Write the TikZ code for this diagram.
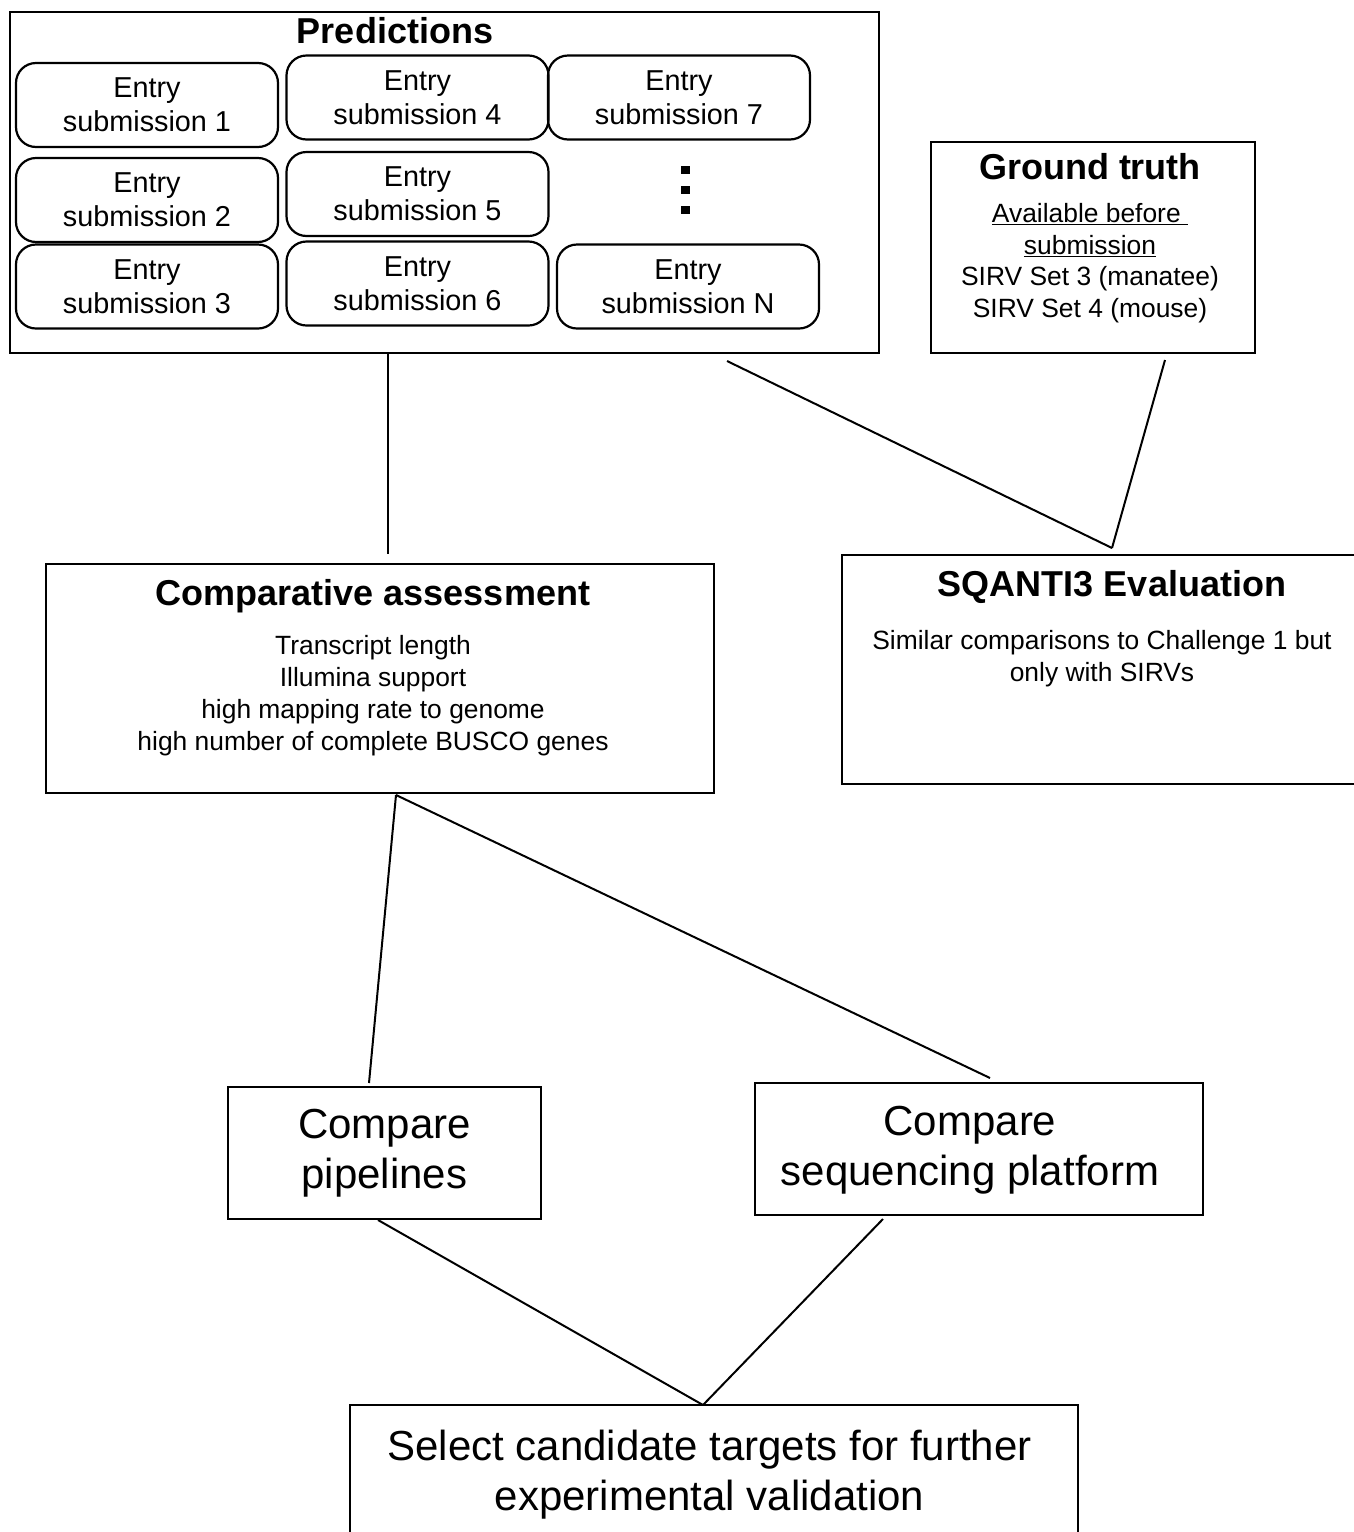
\documentclass[tikz,border=0pt]{standalone}
\usepackage{fontspec}
\setmainfont{Liberation Sans}

\newcommand{\headfont}{\bfseries\fontsize{36}{40}\selectfont}
\newcommand{\entryfont}{\fontsize{28.8}{34}\selectfont}
\newcommand{\bodyfont}{\fontsize{26.4}{31.7}\selectfont}
\newcommand{\bigfont}{\fontsize{42}{50}\selectfont}

\tikzset{
  box/.style={draw, line width=2.4pt, inner sep=0pt, outer sep=0pt},
  entry/.style={draw, line width=2.2pt, rounded corners=20pt, minimum width=262pt,
    minimum height=84pt, inner sep=0pt, outer sep=0pt, align=center, font=\entryfont},
  link/.style={line width=2pt},
  head/.style={anchor=base, font=\headfont},
  % multi-line text sits on the baseline of its last line
  body/.style={anchor=base, align=center, font=\bodyfont},
  big/.style={align=center, font=\bigfont},
}

\begin{document}
\begin{tikzpicture}[x=1pt, y=-1pt]
\useasboundingbox (0,0) rectangle (1354,1532);
\clip (0,0) rectangle (1354,1532);

% predictions frame
\node[box, minimum width=869pt, minimum height=341pt] (pred) at (444.5,182.5) {};
\node[head] (predtitle) at (395,43) {Predictions};

% entries
\node[entry] (e1) at (147,105) {Entry\\submission 1};
\node[entry] (e2) at (147,200) {Entry\\submission 2};
\node[entry] (e3) at (147,286.5) {Entry\\submission 3};
\node[entry] (e4) at (417.5,97.5) {Entry\\submission 4};
\node[entry] (e5) at (417.5,194) {Entry\\submission 5};
\node[entry] (e6) at (417.5,283.5) {Entry\\submission 6};
\node[entry] (e7) at (679,97.5) {Entry\\submission 7};
\node[entry] (eN) at (688,286.5) {Entry\\submission N};

% vertical dots
\foreach \y in {169.5,189.5,209.5}
  \fill (681,\y-4) rectangle (690,\y+4);

% ground truth
\node[box, minimum width=324pt, minimum height=211pt] (gt) at (1093,247.5) {};
\node[head] (gttitle) at (1090,179) {Ground truth};
\node[body] (gtbody) at (1090,317.5) {\underline{Available before\ }\\\underline{submission}\\SIRV Set 3 (manatee)\\SIRV Set 4 (mouse)};

% comparative assessment
\node[box, minimum width=668pt, minimum height=229pt] (comp) at (380,678.5) {};
\node[head] (comptitle) at (373,605) {Comparative assessment};
\node[body] (compbody) at (373,750) {Transcript length\\Illumina support\\high mapping rate to genome\\high number of complete BUSCO genes};

% sqanti evaluation
\node[box, minimum width=528pt, minimum height=229pt] (sq) at (1106,669.5) {};
\node[head] (sqtitle) at (1112,596) {SQANTI3 Evaluation};
\node[body] (sqbody) at (1102,681) {Similar comparisons to Challenge 1 but\\only with SIRVs};

% comparisons
\node[box, big, minimum width=313pt, minimum height=132pt] (pipe) at (384.5,1153) {Compare\\pipelines};
\node[box, minimum width=448pt, minimum height=132pt] (plat) at (979,1149) {};
\node[big] (plattext) at (970,1150) {Compare\\sequencing platform};

% final selection
\node[box, minimum width=728pt, minimum height=140pt] (sel) at (714,1475) {};
\node[big, anchor=base] (seltext) at (709.5,1510) {Select candidate targets for further\\experimental validation};

% links
\coordinate (sqjoin) at ([xshift=6pt,yshift=7pt]sq.north);
\coordinate (compfoot) at ([xshift=16pt,yshift=-2pt]comp.south);
\coordinate (seljoin) at ([xshift=-11pt]sel.north);

\draw[link] ([xshift=-56.5pt]pred.south) -- ([xshift=8pt,yshift=10pt]comp.north);
\draw[link] ([xshift=282.5pt,yshift=-8pt]pred.south) -- (sqjoin);
\draw[link] ([xshift=72pt,yshift=-7pt]gt.south) -- (sqjoin);
\draw[link] (compfoot) -- ([xshift=-15.5pt,yshift=4pt]pipe.north);
\draw[link] (compfoot) -- ([xshift=11pt,yshift=5pt]plat.north);
\draw[link] ([xshift=-6.5pt,yshift=-1pt]pipe.south) -- (seljoin);
\draw[link] ([xshift=-96pt,yshift=-4pt]plat.south) -- (seljoin);

\end{tikzpicture}
\end{document}
